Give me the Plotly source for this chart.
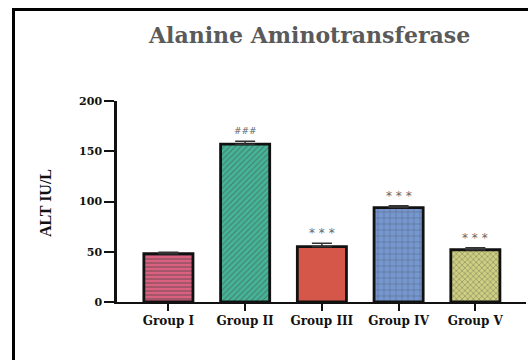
import plotly.graph_objects as go

# ALT levels per treatment group (IU/L), mean and SEM
groups = ["Group I", "Group II", "Group III", "Group IV", "Group V"]
alt_mean = [48, 157, 55, 94, 52]
alt_sem = [1.5, 3, 3.5, 1.7, 2]
signif = ["", "###", "* * *", "* * *", "* * *"]

fills = ["#d9607f", "#45b497", "#d4574a", "#7596cf", "#cfcf82"]
pattern_fg = ["#b8466a", "#a6ecd6", "#c94c40", "#dbe6f7", "#5e5e28"]
pattern_shape = ["-", "/", "", "+", "x"]
pattern_size = [4, 4, 6, 6, 4]
pattern_solidity = [0.35, 0.25, 0.3, 0.18, 0.3]

W, H = 528, 360
L, R, T, B = 117, 2, 101, 58
pw, ph = W - L - R, H - T - B


def px(x):
    return (x - L) / pw


def py(y):
    return (H - B - y) / ph


fig = go.Figure()
fig.add_trace(go.Bar(
    x=groups,
    y=alt_mean,
    width=0.64,
    marker=dict(
        color=fills,
        line=dict(color="#111111", width=2.8),
        pattern=dict(shape=pattern_shape, fgcolor=pattern_fg, bgcolor=fills,
                     size=pattern_size, solidity=pattern_solidity),
    ),
    error_y=dict(type="data", symmetric=False, array=alt_sem,
                 arrayminus=[0] * len(alt_sem), color="#333333",
                 thickness=1.5, width=10),
    showlegend=False,
))

serif_bold = "DejaVu Serif"
annotations = []
for g, m, s, lab in zip(groups, alt_mean, alt_sem, signif):
    if lab:
        annotations.append(dict(
            x=g, y=m + s, xref="x", yref="y", text=lab, showarrow=False,
            yanchor="middle", yshift=10,
            font=dict(family="DejaVu Sans", size=9 if lab == "###" else 12,
                      color="#666666"),
        ))

annotations.append(dict(
    x=px(309), y=py(35), xref="paper", yref="paper",
    text="<b>Alanine Aminotransferase</b>", showarrow=False,
    xanchor="center", yanchor="middle",
    font=dict(family=serif_bold, size=22, color="#5a5a5a"),
))
annotations.append(dict(
    x=px(45), y=py(203), xref="paper", yref="paper",
    text="<b>ALT IU/L</b>", showarrow=False, textangle=-90,
    xanchor="center", yanchor="middle",
    font=dict(family="Liberation Serif", size=16, color="#111111"),
))

fig.update_layout(
    width=W, height=H,
    margin=dict(l=L, r=R, t=T, b=B),
    paper_bgcolor="white", plot_bgcolor="white",
    bargap=0.36,
    annotations=annotations,
    shapes=[dict(
        type="path", xref="paper", yref="paper",
        path=f"M {px(13.5)} {py(H + 5)} L {px(13.5)} {py(9.5)} L {px(W + 5)} {py(9.5)}",
        line=dict(color="black", width=3),
    )],
    font=dict(family=serif_bold, color="#111111"),
)
fig.update_xaxes(
    range=[-0.67, 4.66], showline=True, linecolor="#111111", linewidth=2,
    ticks="outside", ticklen=7, tickwidth=2, tickcolor="#111111",
    showgrid=False, zeroline=False,
    tickvals=groups, ticktext=[f"<b>{g}</b>" for g in groups],
    tickfont=dict(family=serif_bold, size=12, color="#111111"),
)
fig.update_yaxes(
    range=[0, 200], tickvals=[0, 50, 100, 150, 200],
    ticktext=["<b>0</b>", "<b>50</b>", "<b>100</b>", "<b>150</b>", "<b>200</b>"],
    showline=True, linecolor="#111111", linewidth=2.5,
    ticks="outside", ticklen=10, tickwidth=2, tickcolor="#111111",
    showgrid=False, zeroline=False,
    tickfont=dict(family=serif_bold, size=11, color="#111111"),
)

fig.write_html("out.html")
